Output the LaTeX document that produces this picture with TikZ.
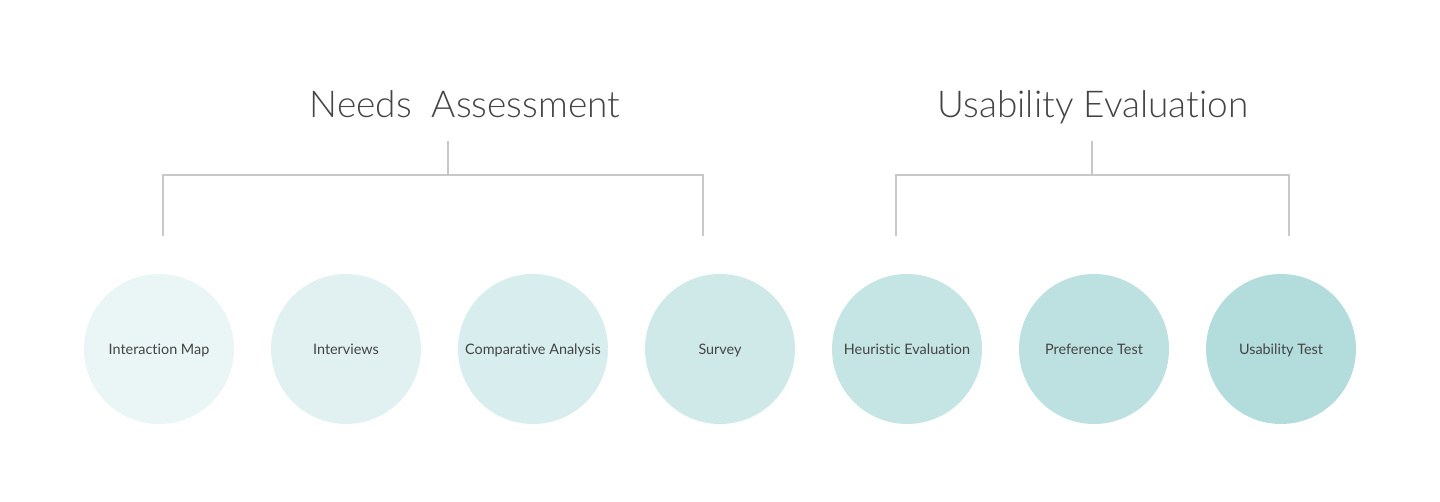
\documentclass[tikz,border=0pt]{standalone}
\usepackage{fontspec}
\setmainfont[Ligatures=NoCommon]{Lato}
\newfontfamily\titlefont[Ligatures=NoCommon]{Lato Light}
\usepackage{tikz}
\usetikzlibrary{positioning}

\definecolor{textgray}{HTML}{444444}
\definecolor{linegray}{HTML}{C8C8C8}
\definecolor{tealA}{RGB}{234,245,245}
\definecolor{tealB}{RGB}{225,241,241}
\definecolor{tealC}{RGB}{216,237,237}
\definecolor{tealD}{RGB}{206,233,232}
\definecolor{tealE}{RGB}{197,229,228}
\definecolor{tealF}{RGB}{188,225,224}
\definecolor{tealG}{RGB}{178,221,220}

\tikzset{
  method/.style={circle, minimum size=75pt, inner sep=0pt, text=textgray,
    text height=1.5ex, text depth=0.35ex,
    font=\fontsize{7.2}{8}\selectfont},
  heading/.style={anchor=base, text=textgray,
    font=\titlefont\fontsize{18.5}{22}\selectfont},
  bracket/.style={draw=linegray, line width=0.75pt}
}

\begin{document}
\begin{tikzpicture}[x=0.5pt, y=-0.5pt]
  \useasboundingbox (0,0) rectangle (1440,502);

  % Headings
  \node[heading] (needs) at (465,118) {Needs\ \ Assessment};
  \node[heading] (usab) at (1093,118) {Usability Evaluation};

  % The methods
  \node[method, fill=tealA] (imap) at (159,349) {Interaction Map};
  \node[method, fill=tealB] (interv) at (346,349) {Interviews};
  \node[method, fill=tealC] (comp) at (533,349) {Comparative Analysis};
  \node[method, fill=tealD] (survey) at (720,349) {Survey};
  \node[method, fill=tealE] (heur) at (907,349) {Heuristic Evaluation};
  \node[method, fill=tealF] (pref) at (1094,349) {Preference Test};
  \node[method, fill=tealG] (utest) at (1281,349) {Usability Test};

  % Corners of the brackets
  \coordinate (nstem) at (448,141);
  \coordinate (nmid) at (448,175);
  \coordinate (nleft) at (163,236);
  \coordinate (nright) at (703,236);
  \coordinate (ustem) at (1092,141);
  \coordinate (umid) at (1092,175);
  \coordinate (uleft) at (896,236);
  \coordinate (uright) at (1289,236);

  % Draw the brackets
  \draw[bracket] (nstem) -- (nmid);
  \draw[bracket] (nleft) |- (nmid) -| (nright);
  \draw[bracket] (ustem) -- (umid);
  \draw[bracket] (uleft) |- (umid) -| (uright);
\end{tikzpicture}
\end{document}
